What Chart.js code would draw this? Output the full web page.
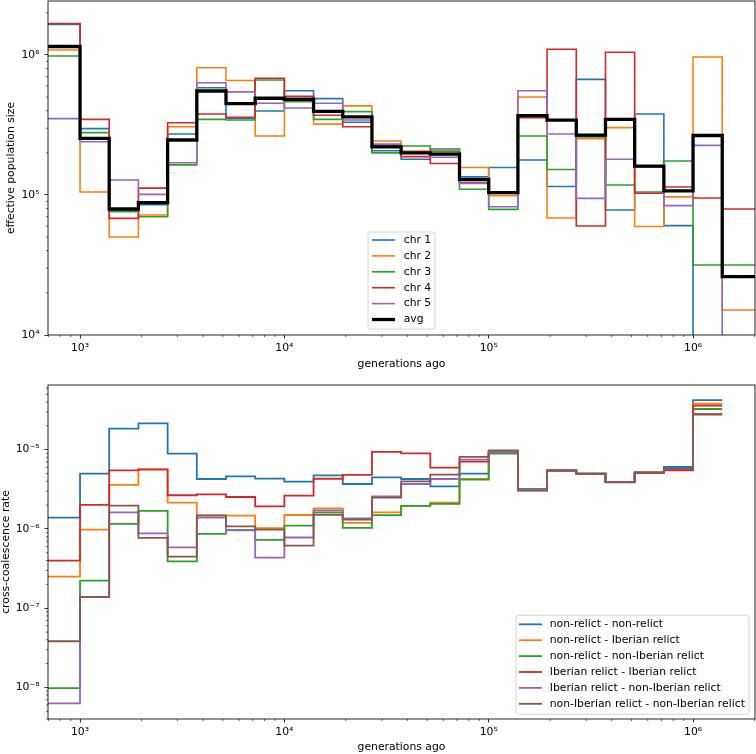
<!DOCTYPE html>
<html>
<head>
<meta charset="utf-8">
<script src="https://cdn.jsdelivr.net/npm/chart.js@4"></script>
<style>
html, body { margin: 0; padding: 0; background: #fff; }
canvas { display: block; }
</style>
</head>
<body>
<canvas id="top" width="756" height="377"></canvas>
<canvas id="bottom" width="756" height="377"></canvas>
<script>
// left edge of each time bin (generations ago), first bin starts off the axis
const binStarts = [500, 1000, 1389, 1931, 2683, 3728, 5179, 7197,
  10000, 13895, 19307, 26827, 37276, 51795, 71969,
  100000, 138950, 193070, 268270, 372760, 517950, 719690,
  1000000, 1389500]
const topEnd = 1e7        // last Ne bin runs off the right edge
const bottomEnd = 1389500 // cross-coalescence stops here

const xTicks = [1e3, 1e4, 1e5, 1e6]
const xTickLabels = ['10³', '10⁴', '10⁵', '10⁶']
const neTicks = [1e4, 1e5, 1e6]
const neTickLabels = ['10⁴', '10⁵', '10⁶']
const ccrTicks = [1e-8, 1e-7, 1e-6, 1e-5]
const ccrTickLabels = ['10⁻⁸', '10⁻⁷', '10⁻⁶', '10⁻⁵']

// effective population size per chromosome
const chrLabels = ['chr 1', 'chr 2', 'chr 3', 'chr 4', 'chr 5', 'avg']
const chr1 = [1.65e6, 2.98e5, 7.7e4, 8.53e4, 2.73e5, 5.84e5, 3.53e5, 3.98e5, 5.56e5, 4.88e5, 3.31e5, 2.07e5, 1.80e5, 2.13e5, 1.35e5, 1.57e5, 1.78e5, 1.15e5, 6.7e5, 7.81e4, 3.79e5, 6.04e4, 1e3, 1e3]
const chr2 = [1.085e6, 1.05e5, 5.01e4, 7.2e4, 3.07e5, 8.11e5, 6.57e5, 2.64e5, 4.7e5, 3.21e5, 4.33e5, 2.43e5, 2.06e5, 2.08e5, 1.57e5, 9.9e4, 5.01e5, 6.85e4, 2.52e5, 3.03e5, 5.95e4, 9.69e4, 9.67e5, 1.51e4]
const chr3 = [9.84e5, 2.79e5, 7.6e4, 7.0e4, 1.64e5, 3.47e5, 3.43e5, 6.63e5, 4.64e5, 3.47e5, 3.94e5, 2.0e5, 2.24e5, 2.04e5, 1.10e5, 7.9e4, 2.64e5, 1.52e5, 2.6e5, 1.18e5, 1.05e5, 1.75e5, 3.16e4, 3.16e4]
const chr4 = [1.68e6, 3.47e5, 6.81e4, 1.12e5, 3.28e5, 3.79e5, 3.59e5, 6.82e5, 5.07e5, 3.71e5, 3.07e5, 2.24e5, 1.88e5, 1.68e5, 1.22e5, 1.03e5, 3.57e5, 1.10e6, 6.0e4, 1.045e6, 1.03e5, 1.14e5, 9.52e4, 7.94e4]
const chr5 = [3.51e5, 2.40e5, 1.28e5, 1.01e5, 1.70e5, 6.34e5, 5.45e5, 4.52e5, 4.18e5, 4.52e5, 3.43e5, 2.31e5, 2.02e5, 1.86e5, 1.21e5, 8.24e4, 5.56e5, 2.73e5, 9.46e4, 1.80e5, 1.585e5, 8.39e4, 2.26e5, 3e3]
const avg = [1.15e6, 2.54e5, 7.94e4, 8.81e4, 2.47e5, 5.53e5, 4.49e5, 4.91e5, 4.83e5, 3.96e5, 3.61e5, 2.21e5, 2.0e5, 1.96e5, 1.29e5, 1.04e5, 3.69e5, 3.43e5, 2.68e5, 3.47e5, 1.61e5, 1.07e5, 2.66e5, 2.61e4]

// cross-coalescence rates between groups
const pairLabels = ['non-relict - non-relict', 'non-relict - Iberian relict', 'non-relict - non-Iberian relict',
  'Iberian relict - Iberian relict', 'Iberian relict - non-Iberian relict', 'non-Iberian relict - non-Iberian relict']
const nrNr = [1.39e-6, 4.98e-6, 1.84e-5, 2.15e-5, 8.9e-6, 4.27e-6, 4.61e-6, 4.31e-6, 3.95e-6, 4.74e-6, 3.69e-6, 4.48e-6, 4.27e-6, 3.44e-6, 4.98e-6, 9.3e-6, 3.2e-6, 5.48e-6, 4.98e-6, 3.91e-6, 5.18e-6, 6.05e-6, 4.23e-5]
const nrIb = [2.5e-7, 9.8e-7, 3.59e-6, 5.6e-6, 2.15e-6, 1.47e-6, 1.47e-6, 1.02e-6, 1.50e-6, 1.82e-6, 1.19e-6, 1.62e-6, 1.95e-6, 2.15e-6, 4.27e-6, 9.3e-6, 3.13e-6, 5.48e-6, 4.98e-6, 3.91e-6, 5.18e-6, 5.71e-6, 3.8e-5]
const nrNonIb = [9.8e-9, 2.23e-7, 1.16e-6, 1.69e-6, 3.9e-7, 8.65e-7, 9.7e-7, 7.3e-7, 1.10e-6, 1.62e-6, 1.03e-6, 1.49e-6, 1.95e-6, 2.07e-6, 4.2e-6, 8.9e-6, 3.13e-6, 5.48e-6, 4.98e-6, 3.91e-6, 5.18e-6, 5.71e-6, 3.26e-5]
const ibIb = [3.98e-7, 2.01e-6, 5.49e-6, 5.65e-6, 2.66e-6, 2.73e-6, 2.53e-6, 1.93e-6, 2.63e-6, 4.3e-6, 4.8e-6, 9.4e-6, 8.98e-6, 5.93e-6, 7.06e-6, 9.6e-6, 3.08e-6, 5.45e-6, 4.95e-6, 3.88e-6, 5.05e-6, 5.5e-6, 3.59e-5]
const ibNonIb = [6.3e-9, 1.38e-7, 1.62e-6, 8.8e-7, 5.86e-7, 1.39e-6, 9.6e-7, 4.35e-7, 7.8e-7, 1.72e-6, 1.36e-6, 2.58e-6, 3.69e-6, 4.27e-6, 7.48e-6, 9.3e-6, 3.1e-6, 5.48e-6, 4.98e-6, 3.91e-6, 5.15e-6, 5.71e-6, 2.82e-5]
const nonIbNonIb = [3.83e-8, 1.39e-7, 1.97e-6, 7.7e-7, 4.48e-7, 1.48e-6, 1.08e-6, 9.8e-7, 6.15e-7, 1.51e-6, 1.31e-6, 2.48e-6, 3.98e-6, 4.84e-6, 8.1e-6, 9.8e-6, 3.05e-6, 5.45e-6, 4.95e-6, 3.9e-6, 5.12e-6, 5.68e-6, 2.78e-5]

const tab10 = ['#1f77b4', '#ff7f0e', '#2ca02c', '#d62728', '#9467bd', '#8c564b']
const fontPx = 10.8

Chart.defaults.font.family = "'DejaVu Sans', sans-serif"
Chart.defaults.font.size = fontPx
Chart.defaults.color = '#000'

// bin values -> points for a step line (value holds until next bin start)
function steps(vals, end) {
  const pts = vals.map((v, i) => ({ x: binStarts[i], y: v }))
  pts.push({ x: end, y: vals[vals.length - 1] })
  return pts
}

function minorValues(min, max) {
  const out = []
  for (let e = Math.floor(Math.log10(min)); e <= Math.ceil(Math.log10(max)); e++) {
    for (let m = 2; m <= 9; m++) {
      const v = m * Math.pow(10, e)
      if (v >= min && v <= max) out.push(v)
    }
  }
  return out
}

// minor ticks, axes frame and a matplotlib-like legend inside the plot
const decorations = {
  id: 'decorations',
  afterDraw(chart, args, opts) {
    const ctx = chart.ctx, a = chart.chartArea
    const xs = chart.scales.x, ys = chart.scales.y
    ctx.save()
    ctx.strokeStyle = '#000'
    ctx.lineWidth = 0.6
    ctx.beginPath()
    minorValues(xs.min, xs.max).forEach(v => {
      const px = xs.getPixelForValue(v)
      ctx.moveTo(px, a.bottom); ctx.lineTo(px, a.bottom + 2)
    })
    minorValues(ys.min, ys.max).forEach(v => {
      const py = ys.getPixelForValue(v)
      ctx.moveTo(a.left - 2, py); ctx.lineTo(a.left, py)
    })
    ctx.stroke()

    ctx.lineWidth = 0.9
    ctx.strokeStyle = '#111'
    ctx.strokeRect(a.left, a.top, a.right - a.left, a.bottom - a.top)

    const lg = opts.legend
    const [x0, y0, x1, y1] = lg.box
    ctx.beginPath()
    ctx.roundRect(x0, y0, x1 - x0, y1 - y0, 2.5)
    ctx.fillStyle = 'rgba(255,255,255,0.8)'
    ctx.fill()
    ctx.strokeStyle = '#d6d6d6'
    ctx.lineWidth = 1
    ctx.stroke()
    ctx.font = fontPx + "px 'DejaVu Sans'"
    ctx.textBaseline = 'middle'
    ctx.textAlign = 'left'
    chart.data.datasets.forEach((ds, i) => {
      const y = lg.rowY + i * lg.rowH
      ctx.beginPath()
      ctx.strokeStyle = ds.borderColor
      ctx.lineWidth = ds.borderWidth
      ctx.moveTo(lg.lineX[0], y); ctx.lineTo(lg.lineX[1], y)
      ctx.stroke()
      ctx.fillStyle = '#000'
      ctx.fillText(ds.label, lg.textX, y)
    })
    ctx.restore()
  }
}

function makeChart(id, datasets, y, legend, layout) {
  return new Chart(document.getElementById(id), {
    type: 'line',
    data: { datasets },
    plugins: [decorations],
    options: {
      responsive: false,
      animation: false,
      events: [],
      layout: { padding: layout.padding },
      elements: { point: { radius: 0 }, line: { stepped: true, tension: 0 } },
      plugins: {
        legend: { display: false },
        tooltip: { enabled: false },
        decorations: { legend }
      },
      scales: {
        x: {
          type: 'logarithmic',
          min: 697, max: 2.01e6,
          afterBuildTicks: s => { s.ticks = xTicks.map(v => ({ value: v })) },
          afterFit: s => { s.height = layout.xHeight; s.paddingLeft = 0; s.paddingRight = 0 },
          ticks: {
            autoSkip: false, maxRotation: 0, padding: 3,
            callback: v => { const i = xTicks.indexOf(v); return i >= 0 ? xTickLabels[i] : '' }
          },
          grid: { drawOnChartArea: false, tickLength: 3.5, tickWidth: 0.8, tickColor: '#000' },
          border: { display: false },
          title: { display: true, text: 'generations ago', padding: { top: 0, bottom: layout.xTitlePad } }
        },
        y: {
          type: 'logarithmic',
          min: y.min, max: y.max,
          afterBuildTicks: s => { s.ticks = y.ticks.map(v => ({ value: v })) },
          afterFit: s => { s.width = 48; s.paddingTop = 0; s.paddingBottom = 0 },
          ticks: {
            autoSkip: false, padding: 5,
            callback: v => { const i = y.ticks.indexOf(v); return i >= 0 ? y.labels[i] : '' }
          },
          grid: { drawOnChartArea: false, tickLength: 3.5, tickWidth: 0.8, tickColor: '#000' },
          border: { display: false },
          title: { display: true, text: y.title, padding: { top: layout.yTitlePad, bottom: 0 } }
        }
      }
    }
  })
}

const neSeries = [chr1, chr2, chr3, chr4, chr5, avg]
const neSets = neSeries.map((vals, i) => ({
  label: chrLabels[i],
  data: steps(vals, topEnd),
  borderColor: i < 5 ? tab10[i] : '#000',
  borderWidth: i < 5 ? 1.6 : 3.3,
  fill: false,
  clip: 0,
  order: neSeries.length - i
}))

const ccrSeries = [nrNr, nrIb, nrNonIb, ibIb, ibNonIb, nonIbNonIb]
const ccrSets = ccrSeries.map((vals, i) => ({
  label: pairLabels[i],
  data: steps(vals, bottomEnd),
  borderColor: tab10[i],
  borderWidth: 1.8,
  fill: false,
  clip: 0,
  order: ccrSeries.length - i
}))

makeChart('top', neSets,
  { min: 1e4, max: 2.43e6, ticks: neTicks, labels: neTickLabels, title: 'effective population size' },
  { box: [368, 232, 435, 329], lineX: [372, 395], textX: 403.7, rowY: 240, rowH: 15.9 },
  { padding: { top: 1, right: 1, left: 0, bottom: 0 }, xHeight: 42, xTitlePad: 6.8, yTitlePad: 4.8 })

makeChart('bottom', ccrSets,
  { min: 4.0e-9, max: 6.55e-5, ticks: ccrTicks, labels: ccrTickLabels, title: 'cross-coalescence rate' },
  { box: [516, 238.3, 749, 337.3], lineX: [519, 542], textX: 549.7, rowY: 247.3, rowH: 15.9 },
  { padding: { top: 8, right: 1, left: 0, bottom: 0 }, xHeight: 35, xTitlePad: 0, yTitlePad: 0 })
</script>
</body>
</html>
